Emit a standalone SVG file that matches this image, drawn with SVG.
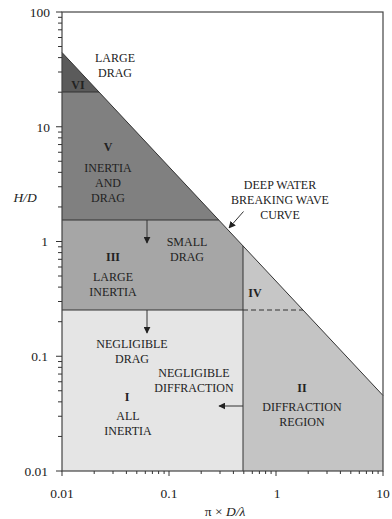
<svg xmlns="http://www.w3.org/2000/svg" width="392" height="519" viewBox="0 0 392 519">
<defs>
<style>
.t{font-family:"Liberation Serif","Times New Roman",serif;font-size:12px;fill:#222;text-anchor:middle}
.b{font-weight:bold}
.ax{font-family:"Liberation Serif","Times New Roman",serif;font-size:13.5px;fill:#222}
.ln{stroke:#333;stroke-width:1;fill:none}
.tk{stroke:#333;stroke-width:1;fill:none}
</style>
<marker id="ah" viewBox="0 0 10 10" refX="9" refY="5" markerWidth="7" markerHeight="7" markerUnits="userSpaceOnUse" orient="auto">
<path d="M0,0 L10,5 L0,10 Z" fill="#222"/>
</marker>
</defs>
<rect width="392" height="519" fill="#fff"/>

<g id="region-VI"><polygon points="62,52.5 99,92 62,92" fill="#5b5b5b"/><text class="t b" x="78" y="89">VI</text></g>
<g id="region-V"><polygon points="62,92 99,92 218.8,220 62,220" fill="#808080"/>
<text class="t b" x="108" y="151">V</text>
<text class="t" x="108" y="172">INERTIA</text><text class="t" x="108" y="187">AND</text><text class="t" x="108" y="202">DRAG</text></g>
<g id="region-III"><polygon points="62,220 218.8,220 243,245.9 243,310 62,310" fill="#a6a6a6"/>
<text class="t b" x="113" y="261">III</text>
<text class="t" x="113" y="281">LARGE</text><text class="t" x="113" y="296">INERTIA</text>
<text class="t" x="187" y="246">SMALL</text><text class="t" x="187" y="261">DRAG</text></g>
<g id="region-IV"><polygon points="243,245.9 303,310 243,310" fill="#c6c6c6"/><text class="t b" x="255" y="297">IV</text></g>
<g id="region-II"><polygon points="243,310 303,310 383,395.5 383,471 243,471" fill="#c4c4c4"/>
<text class="t b" x="302" y="392">II</text>
<text class="t" x="302" y="411">DIFFRACTION</text><text class="t" x="302" y="426">REGION</text></g>
<g id="region-I"><rect x="62" y="310" width="181" height="161" fill="#e5e5e5"/>
<text class="t" x="132" y="348">NEGLIGIBLE</text><text class="t" x="132" y="363">DRAG</text>
<text class="t" x="194" y="377">NEGLIGIBLE</text><text class="t" x="194" y="392">DIFFRACTION</text>
<text class="t b" x="127" y="401">I</text>
<text class="t" x="128" y="420">ALL</text><text class="t" x="128" y="435">INERTIA</text></g>
<g id="region-large-drag"><text class="t" x="115" y="62">LARGE</text><text class="t" x="115" y="77">DRAG</text></g>
<g id="label-curve"><text class="t" x="280" y="189">DEEP WATER</text><text class="t" x="280" y="204">BREAKING WAVE</text><text class="t" x="280" y="219">CURVE</text></g>

<g id="connectors">
<path class="ln" d="M62,92 H99 M62,220 H218.8 M62,310 H243 M243,245.9 V471"/>
<path class="ln" d="M243,310 H303" stroke-dasharray="5,3"/>
<path class="ln" d="M62,52.5 L383,395.5"/>
<path class="ln" d="M147,220 V243" marker-end="url(#ah)"/>
<path class="ln" d="M147,310 V333" marker-end="url(#ah)"/>
<path class="ln" d="M243,406 H219" marker-end="url(#ah)"/>
<path class="ln" d="M243.5,211.5 L229,228" marker-end="url(#ah)"/>
</g>

<g id="axes">
<rect x="62" y="12" width="321" height="459" fill="none" stroke="#444" stroke-width="1.2"/>
<path class="tk" d="M62,12h-6M62,126.75h-6M62,241.5h-6M62,356.25h-6M62,471h-6
M62,92.2h-4M62,72h-4M62,57.6h-4M62,46.5h-4M62,37.5h-4M62,29.8h-4M62,23.1h-4M62,17.3h-4
M62,206.95h-4M62,186.75h-4M62,172.35h-4M62,161.25h-4M62,152.25h-4M62,144.55h-4M62,137.85h-4M62,132.05h-4
M62,321.7h-4M62,301.5h-4M62,287.1h-4M62,276h-4M62,267h-4M62,259.3h-4M62,252.6h-4M62,246.8h-4
M62,436.45h-4M62,416.25h-4M62,401.85h-4M62,390.75h-4M62,381.75h-4M62,374.05h-4M62,367.35h-4M62,361.55h-4"/>
<path class="tk" d="M62,471v5M169,471v5M276,471v5M383,471v5
M94.2,471v3M113,471v3M126.4,471v3M136.8,471v3M145.3,471v3M152.4,471v3M158.6,471v3M164.1,471v3
M201.2,471v3M220,471v3M233.4,471v3M243.8,471v3M252.3,471v3M259.4,471v3M265.6,471v3M271.1,471v3
M308.2,471v3M327,471v3M340.4,471v3M350.8,471v3M359.3,471v3M366.4,471v3M372.6,471v3M378.1,471v3"/>
<g class="ax" text-anchor="end">
<text x="50" y="17">100</text><text x="50" y="131.5">10</text><text x="48" y="246">1</text><text x="48" y="361">0.1</text><text x="48" y="475.5">0.01</text>
</g>
<g class="ax" text-anchor="middle">
<text x="62" y="498">0.01</text><text x="169" y="498">0.1</text><text x="277" y="498">1</text><text x="383" y="498">10</text>
</g>
<text class="ax" x="25" y="202" text-anchor="middle" font-style="italic">H/D</text>
<text class="ax" x="225" y="516" text-anchor="middle">π × <tspan font-style="italic">D/λ</tspan></text>
</g>
</svg>
